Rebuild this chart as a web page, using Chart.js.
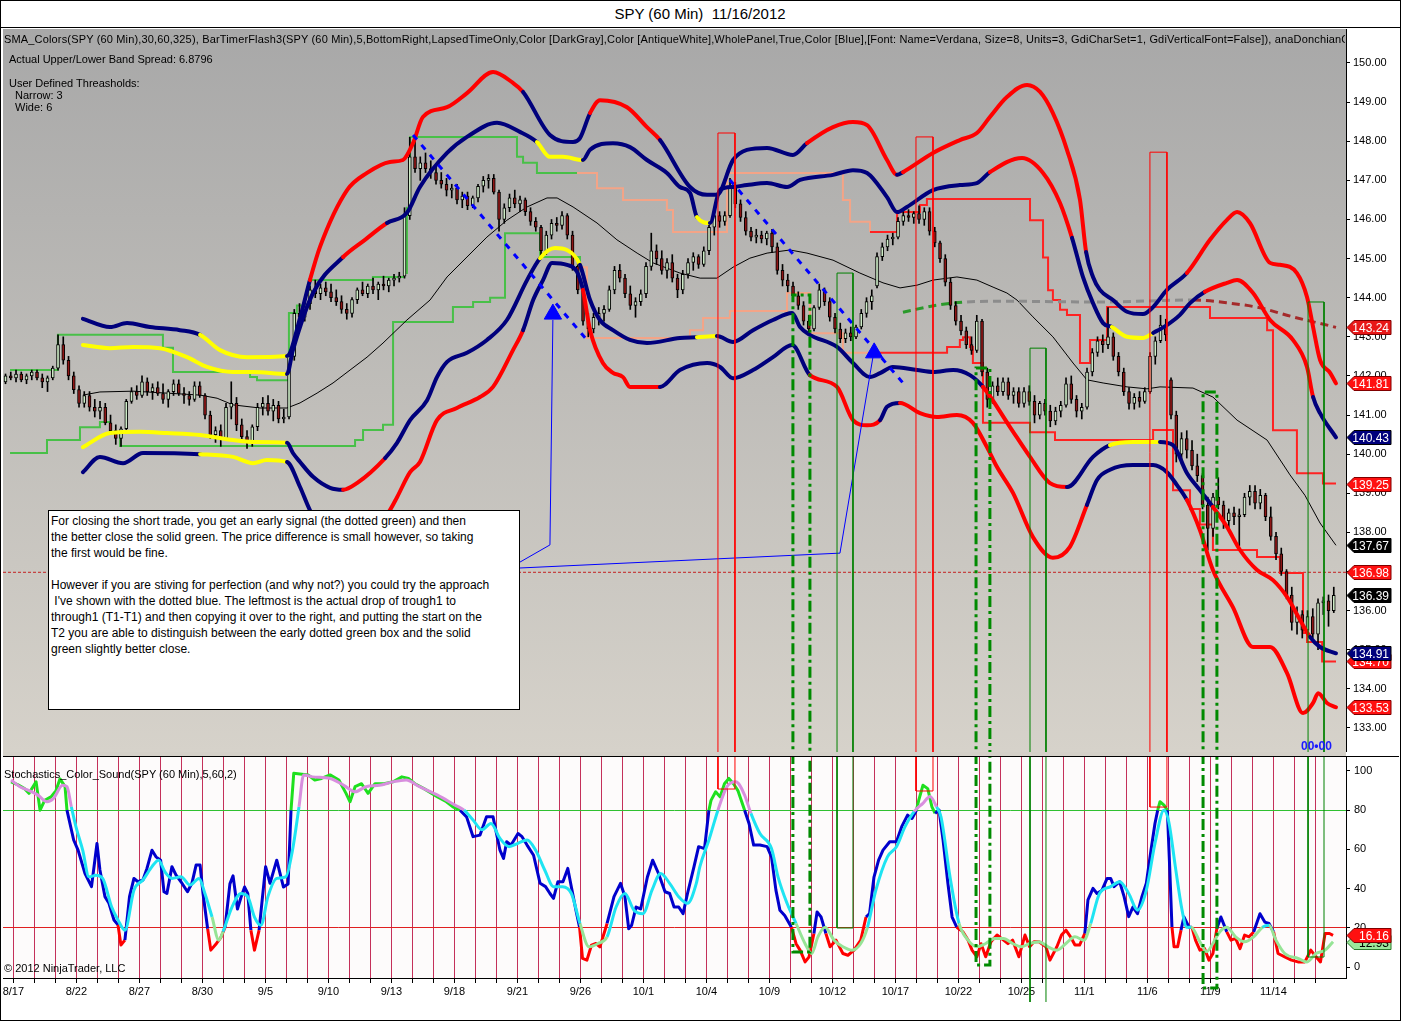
<!DOCTYPE html>
<html>
<head>
<meta charset="utf-8">
<title>SPY (60 Min) 11/16/2012</title>
<script src="https://cdn.jsdelivr.net/npm/chart.js@4.4.1/dist/chart.umd.min.js"></script>
<style>
  body { margin: 0; background: #fff; font-family: "Liberation Sans", Arial, sans-serif; }
  #frame { position: absolute; left: 0; top: 0; width: 1401px; height: 1021px; border: 1px solid #000; box-sizing: border-box; }
  #title { position: absolute; left: 0; top: 0; width: 1400px; height: 28px; line-height: 28px; text-align: center; font-size: 15px; border-bottom: 1px solid #000; box-sizing: border-box; }
  #priceBg { position: absolute; left: 3px; top: 29px; width: 1343px; height: 723px; background: linear-gradient(#a8a8a8, #d6d2ca); }
  #sep { position: absolute; left: 3px; top: 752px; width: 1343px; height: 4px; background: #d4d0c8; }
  #sepLine { position: absolute; left: 3px; top: 756px; width: 1396px; height: 1px; background: #000; }
  #stochBg { position: absolute; left: 3px; top: 757px; width: 1343px; height: 221px; background: #fdfbfb; }
  canvas { position: absolute; left: 3px; }
  #priceChart { top: 29px; }
  #stochChart { top: 757px; }
  .lbl { position: absolute; font-size: 11px; color: #000; white-space: nowrap; z-index: 4; }
  #hdr { left: 4px; top: 33px; width: 1341px; overflow: hidden; letter-spacing: 0.16px; }
  #timer { left: 1301px; top: 739px; color: #1a1aff; font-weight: bold; font-size: 12px; }
  #note { position: absolute; left: 48px; top: 510px; width: 472px; height: 200px; box-sizing: border-box; border: 1px solid #000; background: #fff;
          font-size: 12px; line-height: 16px; padding: 2px 2px; white-space: pre; z-index: 5; }
</style>
</head>
<body>
<div id="frame"></div>
<div id="title">SPY (60 Min)&nbsp; 11/16/2012</div>
<div id="priceBg"></div>
<div id="sep"></div>
<div id="sepLine"></div>
<div id="stochBg"></div>
<canvas id="priceChart" width="1395" height="723"></canvas>
<canvas id="stochChart" width="1395" height="245"></canvas>

<div class="lbl" id="hdr">SMA_Colors(SPY (60 Min),30,60,325), BarTimerFlash3(SPY (60 Min),5,BottomRight,LapsedTimeOnly,Color [DarkGray],Color [AntiqueWhite],WholePanel,True,Color [Blue],[Font: Name=Verdana, Size=8, Units=3, GdiCharSet=1, GdiVerticalFont=False]), anaDonchianC</div>
<div class="lbl" style="left:9px;top:53px;">Actual Upper/Lower Band Spread: 6.8796</div>
<div class="lbl" style="left:9px;top:77px;">User Defined Threasholds:</div>
<div class="lbl" style="left:15px;top:89px;">Narrow: 3</div>
<div class="lbl" style="left:15px;top:101px;">Wide: 6</div>
<div class="lbl" id="timer">00•00</div>
<div class="lbl" style="left:4px;top:768px;">Stochastics_Color_Sound(SPY (60 Min),5,60,2)</div>
<div class="lbl" style="left:4px;top:962px;">© 2012 NinjaTrader, LLC</div>
<div id="note">For closing the short trade, you get an early signal (the dotted green) and then
the better close the solid green. The price difference is small however, so taking
the first would be fine.

However if you are stiving for perfection (and why not?) you could try the approach
 I've shown with the dotted blue. The leftmost is the actual drop of trough1 to
through1 (T1-T1) and then copying it over to the right, and putting the start on the
T2 you are able to distinguish between the early dotted green box and the solid
green slightly better close.</div>

<script>
// trading days shown on the time axis (one session each)
const tradingDays = ['8/17','8/20','8/21','8/22','8/23','8/24','8/27','8/28','8/29','8/30','8/31',
  '9/4','9/5','9/6','9/7','9/10','9/11','9/12','9/13','9/14','9/17','9/18','9/19','9/20','9/21',
  '9/24','9/25','9/26','9/27','9/28','10/1','10/2','10/3','10/4','10/5','10/8','10/9','10/10','10/11','10/12',
  '10/15','10/16','10/17','10/18','10/19','10/22','10/23','10/24','10/25','10/26','10/31','11/1','11/2',
  '11/5','11/6','11/7','11/8','11/9','11/12','11/13','11/14','11/15','11/16'];
const priceTicks = [133,134,135,136,137,138,139,140,141,142,143,144,145,146,147,148,149,150];
const stochTicks = [0,20,40,60,80,100];

// SPY bars, 4 per session, [open, high, low, close]; first two are the tail of 8/16
const bars60 = [
  [141.85,142.05,141.80,142.00],[142.00,142.10,141.90,141.95],
  [141.95,142.15,141.85,142.05],[142.05,142.10,141.85,141.90],[141.90,142.05,141.80,142.00],[142.00,142.15,141.90,142.10],
  [142.10,142.15,141.90,141.95],[141.95,142.05,141.70,141.85],[141.85,142.00,141.60,141.95],[141.95,142.25,141.90,142.20],
  [142.20,143.05,142.15,142.80],[142.80,143.00,142.30,142.40],[142.40,142.50,141.90,142.00],[142.00,142.10,141.55,141.65],
  [141.65,141.75,141.20,141.30],[141.30,141.60,141.20,141.50],[141.50,141.60,141.10,141.20],[141.20,141.40,140.95,141.10],
  [141.10,141.35,140.90,141.20],[141.20,141.30,140.75,140.80],[140.80,141.00,140.50,140.60],[140.60,140.75,140.25,140.40],
  [140.40,140.70,140.20,140.65],[140.65,141.40,140.60,141.35],[141.35,141.70,141.30,141.60],[141.60,141.75,141.40,141.50],
  [141.50,142.00,141.45,141.85],[141.85,141.95,141.50,141.60],[141.60,141.80,141.40,141.70],[141.70,141.85,141.50,141.55],
  [141.55,141.80,141.30,141.40],[141.40,141.65,141.20,141.60],[141.60,141.90,141.50,141.80],[141.80,141.90,141.50,141.55],
  [141.55,141.70,141.30,141.50],[141.50,141.60,141.25,141.40],[141.40,141.85,141.35,141.75],[141.75,141.85,141.45,141.50],
  [141.50,141.55,140.90,141.00],[141.00,141.10,140.40,140.50],[140.50,140.70,140.30,140.60],[140.60,140.75,140.20,140.40],
  [140.40,141.30,140.35,141.20],[141.20,141.85,140.90,141.30],[141.30,141.45,140.60,140.75],[140.75,140.90,140.35,140.45],
  [140.45,140.60,140.15,140.30],[140.30,140.75,140.20,140.70],[140.70,141.30,140.60,141.20],[141.20,141.45,141.00,141.30],
  [141.30,141.50,141.00,141.10],[141.10,141.40,140.85,141.25],[141.25,141.35,140.80,140.90],[140.90,141.15,140.80,140.95],
  [140.95,142.60,140.90,142.50],[142.50,143.70,142.40,143.60],[143.60,143.85,143.35,143.50],[143.50,143.95,143.40,143.85],
  [143.85,144.30,143.70,144.20],[144.20,144.45,144.00,144.10],[144.10,144.35,143.95,144.25],[144.25,144.40,144.05,144.15],
  [144.15,144.35,143.90,144.00],[144.00,144.20,143.80,143.90],[143.90,144.05,143.60,143.70],[143.70,143.85,143.45,143.60],
  [143.60,144.00,143.50,143.95],[143.95,144.25,143.85,144.20],[144.20,144.40,144.05,144.10],[144.10,144.35,144.00,144.30],
  [144.30,144.50,144.10,144.20],[144.20,144.40,143.95,144.35],[144.35,144.55,144.20,144.30],[144.30,144.50,144.15,144.45],
  [144.45,144.60,144.30,144.50],[144.50,144.65,144.40,144.55],[144.55,146.30,144.50,146.10],[146.10,148.10,146.00,147.60],
  [147.60,148.00,147.20,147.30],[147.30,147.60,147.00,147.45],[147.45,147.70,147.20,147.30],[147.30,147.50,147.05,147.20],
  [147.20,147.35,146.90,147.00],[147.00,147.20,146.80,146.90],[146.90,147.05,146.60,146.75],[146.75,146.90,146.55,146.80],
  [146.80,146.90,146.40,146.50],[146.50,146.70,146.30,146.60],[146.60,146.70,146.25,146.35],[146.35,146.60,146.30,146.55],
  [146.55,146.90,146.45,146.85],[146.85,147.10,146.70,147.00],[147.00,147.15,146.80,147.05],[147.05,147.15,146.65,146.70],
  [146.70,146.75,145.70,146.00],[146.00,146.40,145.90,146.30],[146.30,146.65,146.20,146.55],[146.55,146.75,146.30,146.40],
  [146.40,146.60,146.20,146.50],[146.50,146.55,146.10,146.20],[146.20,146.30,145.85,145.95],[145.95,146.05,145.70,145.80],
  [145.80,145.85,145.00,145.20],[145.20,145.70,145.10,145.60],[145.60,146.00,145.50,145.90],[145.90,146.05,145.70,145.85],
  [145.85,146.20,145.75,146.10],[146.10,146.15,145.50,145.60],[145.60,145.70,144.70,144.80],[144.80,144.90,144.10,144.20],
  [144.20,144.30,143.30,143.40],[143.40,143.60,143.00,143.20],[143.20,143.60,143.10,143.50],[143.50,143.75,143.30,143.60],
  [143.60,143.80,143.40,143.70],[143.70,144.30,143.65,144.20],[144.20,144.80,144.10,144.70],[144.70,144.85,144.40,144.50],
  [144.50,144.60,144.00,144.10],[144.10,144.30,143.70,143.80],[143.80,144.00,143.50,143.90],[143.90,144.20,143.80,144.10],
  [144.10,144.90,144.00,144.80],[144.80,145.65,144.70,145.20],[145.20,145.35,144.85,145.00],[145.00,145.20,144.60,144.70],
  [144.70,145.00,144.50,144.90],[144.90,145.10,144.40,144.50],[144.50,144.60,144.00,144.20],[144.20,144.70,144.10,144.60],
  [144.60,145.00,144.50,144.90],[144.90,145.15,144.70,145.05],[145.05,145.10,144.75,144.85],[144.85,145.30,144.80,145.20],
  [145.20,145.90,145.10,145.80],[145.80,146.25,145.60,146.10],[146.10,146.20,145.80,145.95],[145.95,146.20,145.85,146.10],
  [146.10,147.05,146.05,146.80],[146.80,146.95,146.30,146.40],[146.40,146.50,145.95,146.05],[146.05,146.20,145.60,145.70],
  [145.70,145.80,145.45,145.55],[145.55,145.75,145.40,145.60],[145.60,145.70,145.40,145.50],[145.50,145.70,145.35,145.65],
  [145.65,145.75,145.15,145.30],[145.30,145.40,144.60,144.70],[144.70,144.85,144.30,144.45],[144.45,144.60,144.15,144.30],
  [144.30,144.40,143.95,144.05],[144.05,144.15,143.70,143.80],[143.80,143.90,143.30,143.40],[143.40,143.55,143.05,143.20],
  [143.20,143.80,143.15,143.75],[143.75,144.35,143.70,144.20],[144.20,144.25,143.80,143.90],[143.90,144.00,143.40,143.50],
  [143.50,143.60,143.10,143.20],[143.20,143.35,142.85,142.95],[142.95,143.20,142.85,143.10],[143.10,143.25,142.90,143.00],
  [143.00,143.30,142.95,143.25],[143.25,143.70,143.20,143.60],[143.60,144.00,143.50,143.90],[143.90,144.20,143.70,144.05],
  [144.30,145.15,144.25,145.05],[145.05,145.40,144.95,145.30],[145.30,145.60,145.20,145.50],[145.50,145.65,145.35,145.55],
  [145.55,146.05,145.50,145.95],[145.95,146.20,145.85,146.10],[146.10,146.25,145.95,146.05],[146.05,146.20,145.90,146.15],
  [146.15,146.35,145.90,146.00],[146.00,146.30,145.85,146.20],[146.20,146.30,145.60,145.70],[145.70,145.80,145.30,145.40],
  [145.40,145.45,144.90,145.00],[145.00,145.10,144.30,144.40],[144.40,144.50,143.70,143.80],[143.80,143.90,143.30,143.40],
  [143.40,143.55,143.05,143.15],[143.15,143.25,142.70,142.80],[142.80,143.00,142.55,142.65],[142.65,143.55,142.60,143.40],
  [143.40,143.45,142.00,142.10],[142.10,142.20,141.20,141.40],[141.40,141.85,141.30,141.75],[141.75,141.95,141.50,141.60],
  [141.60,141.95,141.50,141.85],[141.85,141.95,141.40,141.50],[141.50,141.70,141.30,141.60],[141.60,141.70,141.20,141.30],
  [141.30,141.70,141.20,141.60],[141.60,141.75,141.25,141.35],[141.35,141.50,140.80,141.00],[141.00,141.35,140.90,141.30],
  [141.30,141.40,141.00,141.10],[141.10,141.25,140.70,140.85],[140.85,141.20,140.75,141.10],[141.10,141.35,140.95,141.25],
  [141.25,141.95,141.20,141.80],[141.80,142.00,141.30,141.40],[141.40,141.50,140.95,141.10],[141.10,141.30,140.90,141.20],
  [141.20,142.20,141.15,142.10],[142.10,142.70,142.00,142.60],[142.60,143.00,142.50,142.90],[142.90,143.05,142.60,142.80],
  [142.80,143.75,142.70,143.00],[143.00,143.10,142.40,142.50],[142.50,142.60,142.00,142.10],[142.10,142.20,141.50,141.60],
  [141.60,141.70,141.15,141.30],[141.30,141.55,141.15,141.45],[141.45,141.60,141.20,141.35],[141.35,141.70,141.30,141.60],
  [141.60,142.60,141.55,142.50],[142.50,143.00,142.30,142.90],[142.90,143.55,142.85,143.30],[143.30,143.45,142.90,143.05],
  [141.90,141.95,140.90,141.00],[141.00,141.10,139.80,140.00],[140.00,140.55,139.75,140.40],[140.40,140.60,139.90,140.10],
  [140.10,140.35,139.60,139.70],[139.70,140.00,139.30,139.45],[139.45,139.50,138.60,138.70],[138.70,138.90,137.55,138.10],
  [138.10,139.00,137.90,138.90],[138.90,139.40,138.60,138.70],[138.70,138.80,138.10,138.30],[138.30,138.60,138.05,138.50],
  [138.50,138.65,138.20,138.40],[138.40,138.60,137.65,138.45],[138.45,139.00,138.40,138.90],[138.90,139.20,138.70,139.05],
  [139.05,139.20,138.60,138.75],[138.75,139.10,138.60,138.95],[138.95,139.00,138.30,138.40],[138.40,138.65,137.80,137.90],
  [137.90,138.00,137.30,137.45],[137.45,137.60,136.90,137.00],[137.00,137.05,136.30,136.40],[136.40,136.60,135.50,135.70],
  [135.70,136.10,135.40,135.90],[135.90,136.00,135.30,135.50],[135.50,136.00,135.40,135.85],[135.85,136.05,135.30,135.40],
  [135.40,136.30,135.00,136.20],[136.20,136.35,135.90,136.25],[136.25,136.40,135.60,136.00],[136.00,136.60,135.95,136.39]
];

// band points [session, price, regime]  N normal, E expanding, C narrow
const outerUpper = [
  [3.31,143.46,'N'],[4.60,143.25,'N'],[5.41,143.35,'N'],[6.50,143.25,'N'],[7.93,143.17,'N'],[8.89,143.05,'C'],[9.84,142.66,'C'],[11.12,142.48,'C'],
  [13.03,142.51,'N'],[13.65,143.48,'N'],[14.12,144.45,'E'],[14.60,145.30,'E'],[15.89,146.75,'E'],[16.84,147.19,'E'],[17.93,147.47,'E'],[18.55,147.52,'E'],
  [19.03,147.95,'E'],[19.50,148.62,'E'],[20.65,148.87,'E'],[21.60,149.23,'E'],[22.84,149.77,'E'],[23.79,149.49,'E'],[24.27,149.26,'N'],[25.55,148.16,'N'],
  [26.65,147.98,'N'],[26.98,148.08,'N'],[27.46,148.72,'E'],[27.93,149.05,'E'],[29.22,148.87,'E'],[30.17,148.36,'E'],[30.79,148.03,'N'],[32.22,146.83,'N'],
  [33.03,146.63,'N'],[33.50,146.63,'N'],[34.27,147.52,'N'],[34.93,147.78,'N'],[35.89,147.83,'N'],[37.12,147.65,'N'],[37.79,147.95,'E'],[39.03,148.36,'E'],
  [39.98,148.49,'E'],[40.65,148.41,'E'],[41.60,147.52,'E'],[42.08,147.14,'N'],[42.36,147.21,'E'],[43.79,147.70,'E'],[45.07,148.03,'E'],[45.88,148.21,'E'],
  [46.50,148.62,'E'],[47.31,149.13,'E'],[48.27,149.44,'E'],[48.89,149.26,'E'],[49.50,148.72,'E'],[50.17,147.78,'E'],[50.79,146.50,'E'],[51.08,145.17,'N'],
  [51.41,144.53,'N'],[51.74,144.20,'N'],[52.36,143.94,'N'],[53.03,143.64,'N'],[53.79,143.58,'N'],[54.27,143.76,'N'],[54.93,144.20,'N'],[55.88,144.63,'E'],
  [56.98,145.48,'E'],[57.79,145.99,'E'],[58.27,146.19,'E'],[58.88,145.91,'E'],[59.84,144.89,'E'],[60.31,144.84,'E'],[61.12,144.63,'E'],[61.60,144.02,'E'],
  [61.89,143.25,'E'],[62.22,142.41,'E'],[62.70,142.08,'E'],[62.98,141.81,'E']
];
const innerUpper = [
  [3.31,142.79,'C'],[4.60,142.71,'C'],[5.70,142.74,'C'],[6.98,142.71,'C'],[8.27,142.48,'C'],[9.22,142.23,'C'],[10.46,142.10,'C'],[11.41,142.10,'C'],
  [13.03,142.05,'N'],[13.31,142.66,'N'],[14.27,144.12,'N'],[15.70,145.04,'E'],[16.74,145.48,'E'],[17.79,145.91,'N'],[18.74,146.17,'N'],[19.36,146.83,'N'],
  [20.65,147.70,'N'],[21.60,148.11,'N'],[23.03,148.47,'N'],[24.12,148.24,'N'],[24.93,147.98,'C'],[25.55,147.60,'C'],[26.17,147.60,'C'],[27.12,147.52,'N'],
  [27.46,147.78,'N'],[28.55,147.95,'N'],[29.36,147.85,'N'],[30.17,147.52,'N'],[31.12,147.19,'N'],[31.74,146.83,'N'],[32.22,146.68,'N'],[32.55,146.06,'C'],
  [33.17,145.91,'N'],[33.65,146.76,'N'],[34.27,146.83,'N'],[34.93,146.88,'N'],[35.89,146.93,'N'],[36.84,146.83,'N'],[37.46,147.01,'N'],[39.03,147.14,'N'],
  [39.98,147.26,'N'],[40.65,147.19,'N'],[41.60,146.57,'N'],[42.08,146.19,'N'],[42.55,146.32,'N'],[43.79,146.75,'N'],[45.07,146.88,'N'],[45.88,146.93,'N'],
  [46.50,147.21,'E'],[48.03,147.57,'E'],[49.03,147.19,'E'],[49.84,146.42,'E'],[50.41,145.53,'N'],[50.93,144.53,'N'],[51.41,143.86,'N'],[51.89,143.35,'N'],
  [52.31,143.25,'C'],[53.03,143.00,'C'],[53.79,142.97,'C'],[54.27,143.10,'N'],[54.93,143.30,'N'],[55.55,143.56,'N'],[56.03,143.86,'N'],[56.74,144.15,'E'],
  [57.79,144.38,'E'],[58.27,144.45,'E'],[59.03,144.12,'E'],[59.84,143.43,'E'],[60.93,142.92,'E'],[61.60,142.23,'E'],[61.89,141.46,'N'],[62.22,141.05,'N'],
  [62.98,140.43,'N']
];
const innerLower = [
  [3.31,140.18,'C'],[4.60,140.54,'C'],[6.03,140.57,'C'],[7.31,140.54,'C'],[8.89,140.49,'C'],[10.46,140.36,'C'],[11.41,140.31,'C'],[13.03,140.29,'N'],
  [13.31,140.03,'N'],[13.65,139.80,'N'],[14.27,139.42,'N'],[15.08,139.14,'N'],[15.70,139.09,'E'],[16.36,139.26,'E'],[17.70,139.90,'N'],[18.27,140.29,'N'],
  [18.89,140.87,'N'],[19.70,141.38,'N'],[20.17,141.97,'N'],[20.65,142.36,'N'],[21.60,142.59,'N'],[22.55,142.92,'N'],[23.50,143.43,'N'],[24.46,144.45,'N'],
  [25.08,145.01,'C'],[25.79,145.27,'C'],[26.36,145.22,'C'],[26.98,144.84,'N'],[27.46,143.94,'N'],[27.93,143.43,'N'],[28.55,143.17,'N'],[29.36,142.92,'N'],
  [30.17,142.84,'N'],[31.74,142.97,'N'],[32.55,142.99,'C'],[33.50,143.02,'N'],[34.27,142.87,'N'],[35.22,143.17,'N'],[36.17,143.43,'N'],[37.08,143.61,'N'],
  [37.46,143.25,'N'],[37.93,143.05,'N'],[39.22,142.74,'N'],[39.98,142.33,'N'],[40.79,141.97,'N'],[41.27,142.07,'N'],[41.88,142.23,'N'],[43.03,142.15,'N'],
  [43.79,142.10,'N'],[44.75,142.15,'N'],[45.55,142.02,'N'],[46.17,141.72,'E'],[47.45,140.70,'E'],[48.41,139.93,'E'],[49.36,139.26,'E'],[50.17,139.16,'N'],
  [51.41,139.93,'N'],[52.22,140.23,'C'],[53.31,140.31,'C'],[54.60,140.31,'N'],[55.22,140.23,'N'],[55.88,139.52,'N'],[56.50,139.08,'N'],[57.12,138.65,'E'],
  [57.79,138.14,'E'],[58.41,137.55,'E'],[59.22,137.04,'E'],[59.98,136.78,'E'],[60.65,136.35,'E'],[61.27,135.76,'E'],[61.74,135.33,'N'],[62.22,135.07,'N'],
  [62.98,134.91,'N']
];
const outerLower = [
  [3.31,139.54,'N'],[4.12,139.93,'N'],[5.22,139.77,'N'],[6.17,140.03,'N'],[8.89,140.00,'C'],[10.46,139.93,'C'],[11.41,139.77,'C'],[12.07,139.85,'C'],
  [13.03,139.80,'N'],[13.65,139.16,'N'],[14.12,138.57,'N'],[14.84,138.01,'N'],[15.79,137.68,'E'],[16.98,137.93,'E'],[17.93,138.57,'E'],[18.27,138.90,'E'],
  [18.89,139.54,'E'],[19.36,139.80,'E'],[20.17,140.87,'E'],[21.12,141.18,'E'],[22.22,141.46,'E'],[22.84,141.72,'E'],[23.79,142.66,'E'],[24.27,143.17,'N'],
  [24.75,143.94,'N'],[25.22,144.45,'N'],[25.65,144.89,'N'],[26.36,144.84,'N'],[26.84,144.66,'N'],[27.12,144.20,'E'],[27.46,143.17,'E'],[28.07,142.33,'E'],
  [28.55,142.08,'E'],[29.03,141.97,'E'],[29.36,141.72,'E'],[30.79,141.72,'N'],[31.74,142.15,'N'],[33.03,142.33,'N'],[33.65,142.23,'N'],[34.27,141.94,'N'],
  [35.22,142.15,'N'],[36.17,142.48,'N'],[37.08,142.79,'N'],[37.93,142.02,'E'],[39.22,141.72,'E'],[39.98,140.87,'E'],[40.65,140.74,'E'],[41.27,140.87,'N'],
  [41.60,141.21,'N'],[42.22,141.31,'E'],[43.17,141.05,'E'],[43.98,140.95,'E'],[44.93,141.00,'E'],[45.69,140.80,'E'],[46.36,140.18,'E'],[46.84,139.67,'E'],
  [47.60,139.01,'E'],[48.55,137.88,'E'],[49.50,137.35,'E'],[50.31,137.63,'E'],[51.12,138.70,'N'],[51.60,139.34,'N'],[52.22,139.60,'N'],[53.31,139.72,'N'],
  [54.27,139.72,'N'],[54.93,139.54,'N'],[55.41,139.21,'N'],[55.88,138.83,'E'],[56.50,138.06,'E'],[57.12,137.04,'E'],[58.07,136.09,'E'],[59.03,135.07,'E'],
  [59.84,135.07,'E'],[60.65,134.40,'E'],[61.41,133.38,'E'],[61.89,133.64,'E'],[62.13,133.89,'E'],[62.55,133.64,'E'],[62.98,133.53,'E']
];

// donchian channel steps [session where level starts, level, phase]
const channelUpper = [
  [-0.16,142.15,'G'],[2.12,143.05,'G'],[7.12,142.72,'G'],[7.60,142.10,'G'],[11.27,141.97,'G'],[11.60,141.89,'G'],[13.12,143.61,'G'],[13.50,143.80,'G'],
  [14.12,144.45,'G'],[17.12,144.53,'G'],[18.60,144.63,'G'],[18.74,146.30,'G'],[18.89,148.11,'G'],[23.98,147.60,'G'],[24.27,147.45,'G'],[24.93,147.19,'G'],
  [26.84,147.19,'S'],[27.79,146.80,'S'],[29.03,146.50,'S'],[31.12,146.24,'S'],[31.41,145.68,'S'],[33.98,147.19,'S'],[39.50,146.50,'S'],[39.84,145.94,'S'],
  [40.79,145.68,'R'],[42.08,146.19,'R'],[43.17,146.37,'R'],[43.50,146.52,'R'],[48.41,145.98,'R'],[49.03,145.03,'R'],[49.27,144.19,'R'],[49.50,143.94,'R'],
  [49.84,143.69,'R'],[50.17,143.56,'R'],[50.79,142.33,'R'],[51.27,142.92,'R'],[52.08,143.76,'R'],[56.98,143.48,'R'],[59.70,143.17,'R'],[59.98,140.61,'R'],
  [61.12,139.51,'R'],[62.36,139.25,'R'],[62.98,139.25,'R']
];
const channelLower = [
  [-0.16,140.03,'G'],[1.60,140.36,'G'],[3.17,140.69,'G'],[4.12,140.82,'G'],[4.60,140.54,'G'],[5.08,140.21,'G'],[16.27,140.36,'G'],[16.65,140.62,'G'],
  [17.60,140.75,'G'],[18.08,143.38,'G'],[20.93,143.76,'G'],[21.89,143.89,'G'],[22.70,144.00,'G'],[23.41,145.65,'G'],[25.08,145.04,'G'],[26.98,144.78,'S'],
  [27.31,142.97,'S'],[32.22,143.17,'S'],[32.84,143.48,'S'],[34.12,143.66,'S'],[36.84,144.12,'S'],[37.93,143.09,'S'],[39.50,142.59,'S'],[40.79,142.59,'R'],
  [44.46,142.74,'R'],[45.07,142.92,'R'],[45.22,142.99,'R'],[45.55,142.74,'R'],[45.69,142.33,'R'],[46.17,140.80,'R'],[48.41,140.56,'R'],[49.60,140.36,'R'],
  [54.27,140.62,'R'],[55.22,139.08,'R'],[56.03,138.60,'R'],[56.50,138.20,'R'],[57.12,137.55,'R'],[59.22,137.37,'R'],[60.31,136.96,'R'],[61.41,135.43,'R'],
  [61.60,135.20,'R'],[62.32,134.70,'R'],[62.98,134.70,'R']
];

// moving averages [session, value]
const smaMid = [
  [3.31,141.51],[4.12,141.59],[5.70,141.61],[7.31,141.56],[8.89,141.51],[9.70,141.43],[10.46,141.26],[11.74,141.18],[13.03,141.18],[13.65,141.31],
  [14.46,141.56],[15.22,141.82],[16.03,142.15],[16.84,142.48],[17.60,142.84],[18.74,143.43],[19.84,143.94],[20.65,144.53],[21.60,145.04],[22.55,145.55],
  [23.50,145.98],[24.46,146.32],[25.41,146.55],[25.89,146.55],[26.65,146.32],[27.79,145.91],[28.74,145.48],[29.70,145.14],[30.46,144.89],[31.74,144.63],
  [32.70,144.50],[33.50,144.50],[34.27,144.78],[35.07,145.01],[35.89,145.14],[36.98,145.22],[37.79,145.14],[39.03,144.96],[40.31,144.63],[41.41,144.38],
  [42.22,144.25],[43.03,144.32],[43.79,144.45],[44.93,144.53],[45.88,144.45],[46.65,144.27],[47.31,144.12],[47.79,143.94],[48.55,143.51],[49.50,143.00],
  [50.46,142.33],[51.12,141.90],[51.89,141.82],[53.03,141.72],[53.98,141.67],[54.60,141.72],[56.17,141.69],[57.12,141.46],[58.27,140.87],[59.70,140.36],
  [60.79,139.47],[61.50,138.95],[62.22,138.24],[62.98,137.67]
];
// long average [session, value, phase]  G rising, N flat, D falling
const smaLong = [
  [42.36,143.63,'G'],[43.98,143.81,'G'],[45.41,143.89,'N'],[46.98,143.91,'N'],[51.74,143.89,'N'],[56.17,143.94,'D'],[57.93,143.86,'D'],
  [59.37,143.74,'D'],[60.93,143.51,'D'],[62.70,143.28,'D'],[62.98,143.24,'D']
];
const stopLevel = 136.98;

// stochastics [session, value]
const stochK = [
  [-0.11,94.5],[0.22,92.9],[0.53,91],[0.74,88.6],[1.08,94.5],[1.27,80],[1.49,85],[1.79,86.8],[2.03,90],[2.22,96],[2.46,92],[2.55,80],[2.87,64.8],
  [3.08,59.6],[3.41,47.7],[3.72,41],[3.98,63],[4.12,49.5],[4.36,35.9],[4.55,32.5],[4.79,24],[4.98,21.5],[5.12,11.2],[5.31,13.7],[5.53,35.9],[5.74,45.2],
  [5.93,43.5],[6.17,44.4],[6.36,50.3],[6.60,59.6],[6.79,56.2],[7.01,54.5],[7.17,38.4],[7.31,37.5],[7.55,51.2],[7.74,47],[7.98,43.5],[8.29,38.4],[8.50,42.7],
  [8.70,52],[8.89,52],[9.03,37.5],[9.25,19.5],[9.40,8.6],[9.67,12],[9.89,15.3],[10.08,20.3],[10.31,42.4],[10.46,46.5],[10.67,29.6],[10.84,35.6],[11.01,40.8],
  [11.16,37.5],[11.31,18.8],[11.48,8.6],[11.70,18.8],[12.01,51.2],[12.22,42.7],[12.54,54.5],[12.86,40.8],[13.08,42.4],[13.22,80],[13.35,98.8],[14.03,98],
  [14.35,95.4],[14.67,96.2],[15.08,98],[15.50,95.4],[15.84,88.6],[16.03,84.3],[16.27,92],[16.58,93.5],[16.89,88.6],[17.22,93.5],[17.65,93.5],[18.08,94.5],
  [18.50,97],[18.81,96.2],[19.12,93.5],[19.55,91],[20.20,86.8],[20.62,84.3],[20.93,81.7],[21.27,80],[21.58,76.6],[21.89,66.5],[22.22,67.3],[22.53,76.6],
  [22.84,76.6],[23.17,59.6],[23.34,55.4],[23.49,63.9],[23.70,62.2],[24.03,68.1],[24.22,66.5],[24.46,62.2],[24.77,57],[25.08,42.7],[25.34,41],[25.55,37.5],
  [25.72,35],[25.93,43.5],[26.17,43.5],[26.40,50.3],[26.57,40.8],[26.79,28.8],[26.96,20.3],[27.10,4.4],[27.31,3.5],[27.53,11.2],[27.74,12],[27.93,10.3],
  [28.27,22.2],[28.60,35.9],[28.91,42.7],[29.12,35.9],[29.30,19.5],[29.44,21.3],[29.65,30.6],[29.87,29.6],[30.19,45.9],[30.44,54.5],[30.72,47.7],[31.03,38.4],
  [31.25,37.5],[31.46,30.6],[31.68,30.6],[31.89,27.2],[32.10,37.5],[32.41,51.2],[32.63,61.4],[32.91,60.4],[33.12,80],[33.22,85],[33.44,89.4],[33.65,86.8],
  [33.86,93.5],[34.07,96.2],[34.29,93.5],[34.50,90],[34.82,80],[35.03,73.2],[35.25,62.2],[35.55,62.2],[35.89,61.4],[36.10,56.2],[36.31,39.2],[36.50,29],
  [36.73,26.3],[37.05,20.3],[37.27,11.9],[37.46,8.6],[37.70,2.6],[37.89,5.2],[38.12,17.1],[38.27,28.1],[38.46,25.5],[38.69,17.1],[38.89,10.3],[39.17,13.7],
  [39.50,6.9],[39.74,6],[40.03,8.6],[40.35,13.7],[40.60,25.5],[40.77,27.2],[40.98,45.9],[41.20,54.5],[41.41,59.6],[41.73,63.9],[42.05,63.9],[42.30,71.6],
  [42.58,77.5],[42.79,75.8],[43.00,80],[43.11,85],[43.31,92.7],[43.54,91],[43.74,81.7],[43.89,78.4],[44.08,80],[44.27,64.8],[44.50,42.7],[44.70,25.5],
  [44.92,20.3],[45.22,17.9],[45.46,13.7],[45.65,8.6],[45.88,5.2],[46.08,11.9],[46.30,5.2],[46.55,12.9],[46.84,16.3],[47.15,13.7],[47.36,11.9],[47.58,13.7],
  [47.88,5.2],[48.17,16.3],[48.39,10.3],[48.60,12.9],[48.84,12.9],[49.17,10.3],[49.36,3.5],[49.69,10.3],[49.91,16.3],[50.12,18.8],[50.34,15.4],[50.55,11.2],
  [50.77,11.2],[51.02,17.1],[51.17,34.2],[51.41,40.1],[51.60,37.5],[51.84,39.2],[52.08,45.2],[52.25,45.2],[52.41,41],[52.68,43.5],[52.89,35.9],[53.11,25.7],
  [53.31,30.6],[53.53,27.2],[53.74,35.9],[53.95,42.7],[54.17,59.6],[54.36,73.2],[54.49,80],[54.60,84.3],[54.79,82.6],[54.95,80],[55.06,51.2],[55.17,20.3],
  [55.27,10.3],[55.44,10.3],[55.60,18.8],[55.74,25.5],[55.98,20.3],[56.12,20.3],[56.29,13.7],[56.50,8.6],[56.72,9.4],[56.93,3.5],[57.12,6.9],[57.31,19.8],
  [57.50,25.5],[57.78,17.9],[57.98,13.7],[58.20,14.6],[58.41,9.4],[58.63,16.3],[58.84,15.4],[59.06,17.9],[59.36,27.2],[59.59,22.9],[59.79,22.2],[60.01,17.9],
  [60.22,6.9],[60.54,5.2],[60.86,3.5],[61.17,2.6],[61.50,2.6],[61.78,8.6],[62.03,5.2],[62.24,2.6],[62.46,17.1],[62.67,17.1],[62.84,16.16]
];
const stochD = [
  [-0.11,95.4],[0.31,92],[0.74,90],[1.17,87.7],[1.60,84.3],[1.91,86],[2.34,92.7],[2.55,92],[2.76,81.7],[2.98,71.5],[3.30,59.6],[3.60,46],[3.93,46.8],
  [4.25,45.2],[4.68,30.6],[4.98,24],[5.31,18.8],[5.74,39.2],[6.17,44.4],[6.60,51.2],[6.91,54.5],[7.22,48.5],[7.55,45.2],[7.98,46],[8.41,41.8],[8.84,45.2],
  [9.12,37.5],[9.46,25.5],[9.78,13.7],[9.98,18],[10.41,30.6],[10.84,37.5],[11.16,35.9],[11.48,25.5],[11.79,21.3],[12.12,35.9],[12.54,45.2],[12.97,46],
  [13.29,59.6],[13.60,81.7],[13.82,98],[14.24,97],[15.08,96.2],[15.73,92.7],[16.27,89.4],[16.79,92],[17.43,92.7],[18.08,94.5],[18.70,95.4],[19.34,92],
  [20.20,87.7],[21.03,82.6],[21.46,80],[21.89,75],[22.31,70],[22.74,73.2],[23.17,65.6],[23.60,61.4],[24.03,63.1],[24.46,64.8],[24.87,59.6],[25.30,49.5],
  [25.72,41],[26.15,41],[26.57,37.5],[26.98,22.2],[27.41,10.3],[27.84,12],[28.27,15.4],[28.70,30.6],[29.12,37.5],[29.55,29],[29.98,27.2],[30.41,39.2],
  [30.82,47.7],[31.25,42.7],[31.68,35.9],[32.10,32.5],[32.52,42.7],[32.69,51.2],[33.12,64.8],[33.55,80],[33.98,92],[34.40,94.5],[34.82,87.7],[35.12,78.4],
  [35.55,68.1],[36.10,60.4],[36.41,46],[36.84,32.5],[37.27,22.2],[37.70,11.9],[38.01,6.9],[38.31,15.4],[38.65,20.3],[39.08,13.7],[39.50,10.3],[39.92,8.6],
  [40.35,12],[40.67,20.3],[41.07,39.2],[41.62,56.2],[42.05,61.4],[42.46,71.6],[42.89,79.3],[43.31,83.5],[43.65,87],[43.96,81.7],[44.17,76.6],[44.60,46],
  [45.03,22.2],[45.46,13.7],[45.88,10.3],[46.30,12],[46.72,14.6],[47.15,14.6],[47.58,12],[47.98,10.3],[48.41,12],[48.84,12.9],[49.27,10.3],[49.69,8.6],
  [50.12,12],[50.55,15.4],[50.98,13.7],[51.30,22.2],[51.72,37.5],[52.25,41],[52.68,43.5],[53.11,37.5],[53.53,29],[53.95,39.2],[54.36,63.1],[54.79,80],
  [55.02,74],[55.33,51.2],[55.65,29],[55.87,20.3],[56.08,20.3],[56.50,12.9],[56.82,7.8],[57.12,12],[57.45,18],[57.78,20.3],[58.20,15.4],[58.63,12.9],
  [59.06,15.4],[59.48,20.3],[59.79,21.3],[60.12,13.7],[60.54,6.9],[61.17,4.4],[61.60,2.6],[62.03,6.9],[62.46,8.6],[62.84,12.93]
];

// drawn boxes: [left session, right session], top price, bottom stochastic value
const redBoxSpan = [[33.55,34.36],[42.98,43.79],[54.12,54.93]];
const redBoxTop = [148.21,148.11,147.72];
const redBoxStoch = [90.8,89.8,81.6];
const greenBoxSpan = [[39.22,39.98],[48.41,49.17],[61.65,62.41]];
const greenBoxTop = [144.63,142.71,143.89];
const greenBoxStoch = [19.9,-18.4,5.1];
const earlyBoxSpan = [[37.12,37.93],[45.84,46.50],[56.65,57.31]];
const earlyBoxTop = [144.07,142.20,141.59];
const earlyBoxStoch = [7.7,1.0,-10.7];

// trend annotations [session, price]
const trendT1 = [[19.03,148.16],[27.31,142.92]];
const trendT2 = [[34.12,147.01],[42.36,141.82]];
const noteLink1 = [[24.12,137.24],[25.55,137.68],[25.69,143.43]];
const noteLink2 = [[24.12,137.09],[39.36,137.47],[40.93,142.48]];
const arrowMarks = [[25.69,143.58],[40.99,142.59]];

// ---------- drawing ----------
Chart.defaults.font.family = '"Liberation Sans", Arial, sans-serif';
Chart.defaults.font.size = 11;
Chart.defaults.color = '#000';

const X_MIN = -0.495, X_MAX = 63.457;
const P_MIN = 132.386, P_MAX = 150.869;
const S_MIN = -5.61, S_MAX = 107.14;

const xy = arr => arr.map(p => ({ x: p[0], y: p[1] }));
const barDay = i => (i - 1.5) / 4;

const bandColors = { N: '#00007c', E: '#ff0000', C: '#ffff00' };
const channelColors = { G: '#48c048', S: '#f4a487', R: '#ff2222' };
const longColors = { G: '#2a9a2a', N: '#8c8c8c', D: '#a52a2a' };

// keep the plot area flush with the canvas edges
const noPad = s => { s.paddingTop = 0; s.paddingBottom = 0; s.paddingLeft = 0; s.paddingRight = 0; };

function band(points, order) {
  return {
    type: 'line', data: xy(points), order,
    borderWidth: 4, pointRadius: 0, cubicInterpolationMode: 'monotone',
    borderCapStyle: 'round', borderJoinStyle: 'round',
    borderColor: bandColors.N,
    segment: { borderColor: c => bandColors[points[c.p0DataIndex][2]] }
  };
}
function channel(points, order) {
  // level holds until the next change point, then jumps
  return {
    type: 'line', data: xy(points), order, stepped: 'before',
    borderWidth: 2, pointRadius: 0, borderColor: channelColors.G,
    segment: { borderColor: c => channelColors[points[c.p0DataIndex][2]] }
  };
}
function plainLine(points, color, width, dash, order) {
  return { type: 'line', data: xy(points), order, borderColor: color, borderWidth: width,
           borderDash: dash || [], pointRadius: 0, tension: 0 };
}
function upperBox(span, top) {
  return [[span[0], P_MIN - 2], [span[0], top], [span[1], top], [span[1], P_MIN - 2]];
}
function lowerBox(span, bottom) {
  return [[span[0], S_MAX + 2], [span[0], bottom], [span[1], bottom], [span[1], S_MAX + 2]];
}

function markerPlugin(items) {
  return {
    id: 'axisMarkers',
    afterDraw(chart) {
      const ctx = chart.ctx, ys = chart.scales.y, x0 = ys.left;
      ctx.save();
      ctx.font = '12px "Liberation Sans", Arial, sans-serif';
      ctx.textAlign = 'right';
      ctx.textBaseline = 'middle';
      items.forEach(m => {
        const py = Math.round(ys.getPixelForValue(m.value)) + 0.5;
        ctx.beginPath();
        ctx.moveTo(x0 + 1, py);
        ctx.lineTo(x0 + 8, py - 7);
        ctx.lineTo(x0 + 45, py - 7);
        ctx.lineTo(x0 + 45, py + 7);
        ctx.lineTo(x0 + 8, py + 7);
        ctx.closePath();
        ctx.fillStyle = m.bg;
        ctx.fill();
        ctx.strokeStyle = m.edge || '#000';
        ctx.lineWidth = 1;
        ctx.stroke();
        ctx.fillStyle = m.fg;
        ctx.fillText(m.value.toFixed(2), x0 + 43, py + 1);
      });
      ctx.restore();
    }
  };
}
const last = arr => arr[arr.length - 1][1];

// ----- price pane -----
const priceSets = [];
redBoxSpan.forEach((s, i) => priceSets.push(plainLine(upperBox(s, redBoxTop[i]), '#ff0000', 1, null, 0)));
greenBoxSpan.forEach((s, i) => priceSets.push(plainLine(upperBox(s, greenBoxTop[i]), '#008000', 1, null, 0)));
earlyBoxSpan.forEach((s, i) => priceSets.push(plainLine(upperBox(s, earlyBoxTop[i]), '#008a00', 3, [11, 4, 3, 4], 0)));
priceSets.push(plainLine([[X_MIN, stopLevel], [X_MAX, stopLevel]], '#c42020', 1, [3, 2], 9));
priceSets.push(channel(channelUpper, 8));
priceSets.push(channel(channelLower, 8));
priceSets.push(plainLine(smaMid, '#000000', 1, null, 7));
priceSets.push({
  type: 'line', data: xy(smaLong), order: 6, borderWidth: 3, borderDash: [8, 5], pointRadius: 0,
  cubicInterpolationMode: 'monotone', borderColor: longColors.N,
  segment: { borderColor: c => longColors[smaLong[c.p0DataIndex][2]] }
});
priceSets.push({
  type: 'bar', order: 5, grouped: false, barThickness: 1, borderWidth: 0, backgroundColor: '#000',
  data: bars60.map((b, i) => ({ x: barDay(i), y: [b[2], b[1]] }))
});
priceSets.push({
  type: 'bar', order: 4, grouped: false, barThickness: 3, borderWidth: 1, borderColor: '#000', borderSkipped: false,
  backgroundColor: c => { const b = bars60[c.dataIndex]; return b && b[3] >= b[0] ? '#cdebc6' : '#8e1616'; },
  data: bars60.map((b, i) => ({ x: barDay(i), y: [b[0], b[3]] }))
});
priceSets.push(band(outerLower, 3));
priceSets.push(band(innerLower, 3));
priceSets.push(band(innerUpper, 3));
priceSets.push(band(outerUpper, 3));
priceSets.push(plainLine(trendT1, '#0000ff', 3, [6, 7], 1));
priceSets.push(plainLine(trendT2, '#0000ff', 3, [6, 7], 1));
priceSets.push(plainLine(noteLink1, '#0000ff', 1, null, 1));
priceSets.push(plainLine(noteLink2, '#0000ff', 1, null, 1));
priceSets.push({
  type: 'line', data: xy(arrowMarks), order: 1, showLine: false,
  pointStyle: 'triangle', pointRadius: 10, pointBackgroundColor: '#0000ff', pointBorderColor: '#0000ff'
});

const priceMarkers = [
  { value: last(smaLong), bg: '#e81818', fg: '#fff', edge: '#800000' },
  { value: last(outerUpper), bg: '#ff1010', fg: '#fff', edge: '#800000' },
  { value: last(innerUpper), bg: '#00007c', fg: '#fff' },
  { value: last(channelUpper), bg: '#ff1010', fg: '#fff', edge: '#800000' },
  { value: last(smaMid), bg: '#000', fg: '#fff' },
  { value: stopLevel, bg: '#ff1010', fg: '#fff', edge: '#800000' },
  { value: bars60[bars60.length - 1][3], bg: '#000', fg: '#fff' },
  { value: last(channelLower), bg: '#ff1010', fg: '#fff', edge: '#800000' },
  { value: last(innerLower), bg: '#00007c', fg: '#fff' },
  { value: last(outerLower), bg: '#ff1010', fg: '#fff', edge: '#800000' }
];

new Chart(document.getElementById('priceChart'), {
  type: 'line',
  data: { datasets: priceSets },
  options: {
    responsive: false, animation: false, events: [],
    layout: { padding: 0, autoPadding: false },
    plugins: { legend: { display: false }, tooltip: { enabled: false } },
    scales: {
      x: { type: 'linear', min: X_MIN, max: X_MAX, display: false, offset: false },
      y: {
        position: 'right', min: P_MIN, max: P_MAX,
        afterBuildTicks: s => { s.ticks = priceTicks.map(v => ({ value: v })); },
        afterFit: s => { s.width = 52; noPad(s); },
        ticks: { callback: v => Number(v).toFixed(2), padding: 3, font: { size: 11 } },
        grid: { drawOnChartArea: false, drawTicks: true, tickLength: 4, tickColor: '#000' },
        border: { color: '#000', width: 1 }
      }
    }
  },
  plugins: [markerPlugin(priceMarkers)]
});

// ----- stochastics pane -----
const kColor = c => { const m = (c.p0.parsed.y + c.p1.parsed.y) / 2; return m > 80 ? '#1ee01e' : m < 20 ? '#ff0000' : '#0000cc'; };
const dColor = c => { const m = (c.p0.parsed.y + c.p1.parsed.y) / 2; return m > 80 ? '#d88ede' : m < 20 ? '#96e496' : '#1ee4f2'; };
const lowClip = { left: 0, top: 0, right: 0, bottom: false };

const stochSets = [];
redBoxSpan.forEach((s, i) => stochSets.push(Object.assign(plainLine(lowerBox(s, redBoxStoch[i]), '#ff0000', 1, null, 0), { clip: lowClip })));
greenBoxSpan.forEach((s, i) => stochSets.push(Object.assign(plainLine(lowerBox(s, greenBoxStoch[i]), '#008000', 1, null, 0), { clip: lowClip })));
earlyBoxSpan.forEach((s, i) => stochSets.push(Object.assign(plainLine(lowerBox(s, earlyBoxStoch[i]), '#008a00', 3, [11, 4, 3, 4], 0), { clip: lowClip })));
stochSets.push({ type: 'line', data: xy(stochK), order: 3, borderWidth: 3, pointRadius: 0, borderColor: '#0000cc',
                 borderJoinStyle: 'round', segment: { borderColor: kColor } });
stochSets.push({ type: 'line', data: xy(stochD), order: 2, borderWidth: 3, pointRadius: 0, borderColor: '#1ee4f2',
                 cubicInterpolationMode: 'monotone', borderJoinStyle: 'round', segment: { borderColor: dColor } });

const stochMarkers = [
  { value: last(stochD), bg: '#9be89b', fg: '#000', edge: '#2a7a2a' },
  { value: last(stochK), bg: '#ff1010', fg: '#fff', edge: '#800000' }
];

new Chart(document.getElementById('stochChart'), {
  type: 'line',
  data: { datasets: stochSets },
  options: {
    responsive: false, animation: false, events: [],
    layout: { padding: 0, autoPadding: false },
    plugins: { legend: { display: false }, tooltip: { enabled: false } },
    scales: {
      x: {
        type: 'linear', min: X_MIN, max: X_MAX, offset: false,
        afterBuildTicks: s => { s.ticks = tradingDays.map((d, i) => ({ value: i })); },
        afterFit: s => { s.height = 24; noPad(s); },
        ticks: { autoSkip: false, maxRotation: 0, minRotation: 0, padding: 2, font: { size: 11 },
                 callback: (v, i) => (i % 3 === 0 ? tradingDays[i] : '') },
        grid: { color: '#c4305a', lineWidth: 1, drawTicks: true, tickLength: 5, tickColor: '#000' },
        border: { color: '#000', width: 1 }
      },
      y: {
        position: 'right', min: S_MIN, max: S_MAX,
        afterBuildTicks: s => { s.ticks = stochTicks.map(v => ({ value: v })); },
        afterFit: s => { s.width = 52; noPad(s); },
        ticks: { padding: 4, font: { size: 11 } },
        grid: {
          color: c => (c.tick && c.tick.value === 80 ? '#30c030' : c.tick && c.tick.value === 20 ? '#e02020' : 'rgba(0,0,0,0)'),
          drawTicks: true, tickLength: 4, tickColor: '#000'
        },
        border: { color: '#000', width: 1 }
      }
    }
  },
  plugins: [markerPlugin(stochMarkers)]
});
</script>
</body>
</html>
